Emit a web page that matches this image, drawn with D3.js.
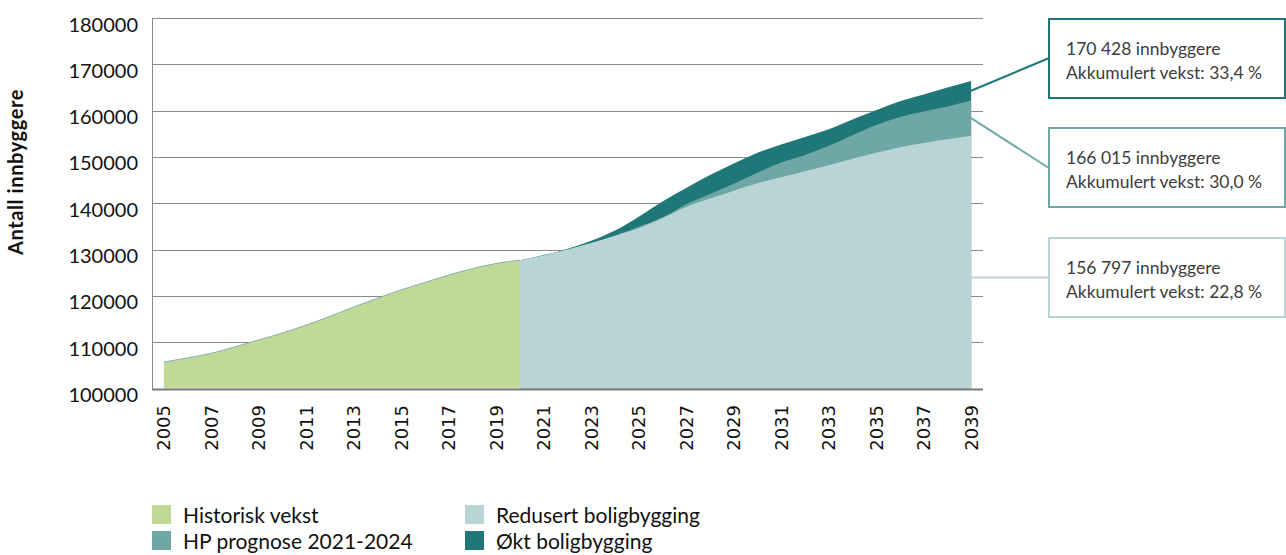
<!DOCTYPE html>
<html>
<head>
<meta charset="utf-8">
<script src="https://cdn.jsdelivr.net/npm/d3@7"></script>
<style>
  body { margin: 0; background: #fff; }
  svg { display: block; }
</style>
</head>
<body>
<div id="chart"></div>
<script>
// categories
const years = [2005, 2006, 2007, 2008, 2009, 2010, 2011, 2012, 2013, 2014, 2015, 2016, 2017, 2018, 2019,
  2020, 2021, 2022, 2023, 2024, 2025, 2026, 2027, 2028, 2029, 2030, 2031, 2032, 2033, 2034, 2035, 2036, 2037, 2038, 2039]
const histYears = [2005, 2006, 2007, 2008, 2009, 2010, 2011, 2012, 2013, 2014, 2015, 2016, 2017, 2018, 2019, 2020]
const progYears = [2020, 2021, 2022, 2023, 2024, 2025, 2026, 2027, 2028, 2029, 2030, 2031, 2032, 2033, 2034, 2035, 2036, 2037, 2038, 2039]

// series values (innbyggere)
const historisk = [105700, 106600, 107600, 109000, 110500, 112000, 113700, 115600, 117600, 119500, 121300, 122900, 124500, 125900, 127000, 127700]
const redusert = [127700, 128700, 130000, 131400, 133000, 134600, 136800, 139200, 141000, 142700, 144300, 145600, 146900, 148200, 149600, 150900, 152100, 153000, 153800, 154600]
const hpPrognose = [127700, 128700, 130000, 131400, 133000, 134900, 136900, 139800, 142000, 144200, 146600, 148800, 150400, 152400, 154700, 156900, 158600, 159800, 160900, 162200]
const oktBolig = [127700, 128800, 130200, 131900, 134100, 137100, 140400, 143300, 146100, 148600, 150900, 152700, 154300, 156000, 158100, 160100, 162000, 163500, 165000, 166400]

const yTicks = [100000, 110000, 120000, 130000, 140000, 150000, 160000, 170000, 180000]
const xTickLabels = [2005, 2007, 2009, 2011, 2013, 2015, 2017, 2019, 2021, 2023, 2025, 2027, 2029, 2031, 2033, 2035, 2037, 2039]

const legendItems = ['Historisk vekst', 'Redusert boligbygging', 'HP prognose 2021-2024', 'Økt boligbygging']
const callouts = [
  ['170 428 innbyggere', 'Akkumulert vekst: 33,4 %'],
  ['166 015 innbyggere', 'Akkumulert vekst: 30,0 %'],
  ['156 797 innbyggere', 'Akkumulert vekst: 22,8 %']
]

const colors = {
  hist: '#c1d997',
  red: '#b9d4d5',
  hp: '#6fa6a6',
  okt: '#1f7877'
}

const W = 1286, H = 555
const plot = { left: 152, right: 983, top: 18, bottom: 388.5 }

const svg = d3.select('#chart').append('svg').attr('width', W).attr('height', H)

const x = d3.scalePoint().domain(years).range([plot.left, plot.right]).padding(0.5)
const y = d3.scaleLinear().domain([100000, 180000]).range([plot.bottom, plot.top])

// gridlines
svg.append('g')
  .selectAll('line')
  .data(yTicks.slice(1))
  .join('line')
  .attr('x1', plot.left).attr('x2', plot.right)
  .attr('y1', d => Math.round(y(d)) + 0.5).attr('y2', d => Math.round(y(d)) + 0.5)
  .attr('stroke', '#8a8a8a').attr('stroke-width', 1)

const area = yrs => d3.area()
  .x((d, i) => x(yrs[i]))
  .y0(y(100000))
  .y1(d => y(d))
  .curve(d3.curveMonotoneX)

svg.append('path').datum(oktBolig).attr('d', area(progYears)).attr('fill', colors.okt)
svg.append('path').datum(hpPrognose).attr('d', area(progYears)).attr('fill', colors.hp)
svg.append('path').datum(redusert).attr('d', area(progYears)).attr('fill', colors.red)

svg.append('path').datum(historisk).attr('d', area(histYears)).attr('fill', colors.hist)
svg.append('path').datum(historisk)
  .attr('d', d3.line().x((d, i) => x(histYears[i])).y(d => y(d)).curve(d3.curveMonotoneX))
  .attr('fill', 'none').attr('stroke', '#86aeb6').attr('stroke-width', 1)

// axes lines
svg.append('line')
  .attr('x1', plot.left + 0.5).attr('x2', plot.left + 0.5)
  .attr('y1', plot.top).attr('y2', plot.bottom + 1)
  .attr('stroke', '#8a8a8a').attr('stroke-width', 1)
svg.append('line')
  .attr('x1', plot.left).attr('x2', plot.right)
  .attr('y1', plot.bottom + 1).attr('y2', plot.bottom + 1)
  .attr('stroke', '#7a7a7a').attr('stroke-width', 2)

// y tick labels
svg.append('g')
  .attr('font-family', 'Lato, sans-serif')
  .attr('font-size', 20)
  .attr('fill', '#111')
  .attr('text-anchor', 'end')
  .selectAll('text')
  .data(yTicks)
  .join('text')
  .attr('x', 138)
  .attr('y', d => y(d) + 6.5)
  .attr('dy', '0.35em')
  .text(d => d)

// y title
svg.append('text')
  .attr('transform', `translate(23,172) rotate(-90)`)
  .attr('text-anchor', 'middle')
  .attr('font-family', 'Lato, sans-serif')
  .attr('font-weight', 'bold')
  .attr('font-size', 20)
  .attr('letter-spacing', 0.6)
  .attr('fill', '#111')
  .text('Antall innbyggere')

// x tick labels
svg.append('g')
  .attr('font-family', '"DejaVu Sans", sans-serif')
  .attr('font-size', 18)
  .attr('fill', '#111')
  .selectAll('text')
  .data(xTickLabels)
  .join('text')
  .attr('transform', d => `translate(${x(d)},405) rotate(-90)`)
  .attr('text-anchor', 'end')
  .attr('dy', '0.36em')
  .text(d => d)

// callouts
const last = progYears.length - 1
const boxX = 1048, boxW = 238, boxH = 81
const boxYs = [18, 127, 237]
const boxColors = [colors.okt, colors.hp, colors.red]
const startYs = [
  (y(oktBolig[last]) + y(hpPrognose[last])) / 2,
  (y(hpPrognose[last]) + y(redusert[last])) / 2,
  boxYs[2] + boxH / 2
]
const cx = x(2039)

callouts.forEach((lines, i) => {
  svg.append('line')
    .attr('x1', cx).attr('y1', startYs[i])
    .attr('x2', boxX).attr('y2', boxYs[i] + boxH / 2)
    .attr('stroke', boxColors[i]).attr('stroke-width', 2)
  svg.append('rect')
    .attr('x', boxX + 1).attr('y', boxYs[i] + 1)
    .attr('width', boxW - 2).attr('height', boxH - 2)
    .attr('fill', '#fff').attr('stroke', boxColors[i]).attr('stroke-width', 2)
  const t = svg.append('text')
    .attr('font-family', 'Lato, sans-serif')
    .attr('font-size', 17.5)
    .attr('fill', '#3c3c3c')
  lines.forEach((s, j) => {
    t.append('tspan').attr('x', 1066).attr('y', boxYs[i] + 37 + j * 24).text(s)
  })
})

// legend (second row nudged up so descenders stay inside the picture)
const legendPos = [[152, 523], [465, 523], [152, 549], [465, 549]]
const legendColors = [colors.hist, colors.red, colors.hp, colors.okt]
const lg = svg.append('g').attr('font-family', 'Lato, sans-serif').attr('font-size', 21).attr('fill', '#111')
legendItems.forEach((name, i) => {
  const [lx, ly] = legendPos[i]
  lg.append('rect').attr('x', lx).attr('y', ly - 18).attr('width', 19).attr('height', 19).attr('fill', legendColors[i])
  lg.append('text').attr('x', lx + 31).attr('y', ly).text(name)
})
</script>
</body>
</html>
